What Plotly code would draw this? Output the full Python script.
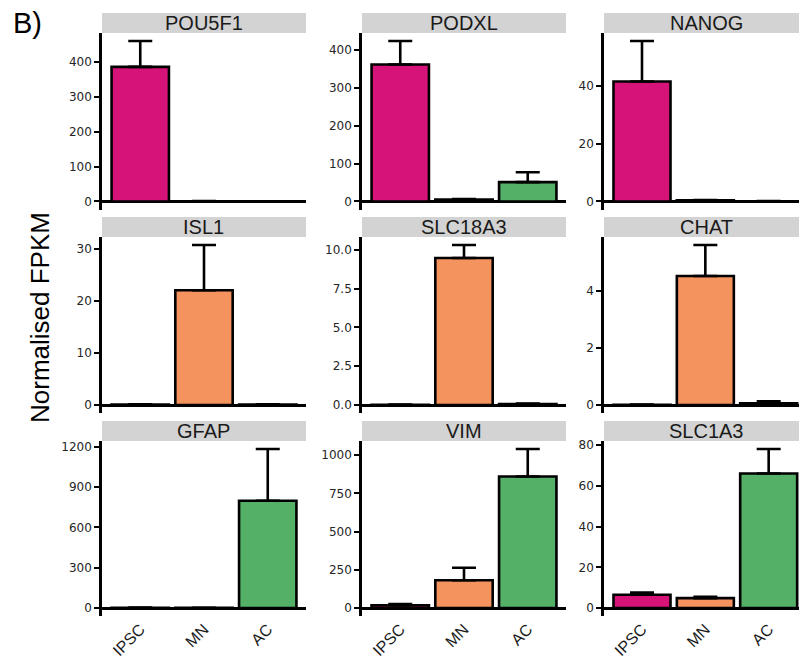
import plotly.graph_objects as go

# Expression data: mean normalised FPKM and SD per gene and cell type
genes = ["POU5F1", "PODXL", "NANOG", "ISL1", "SLC18A3", "CHAT", "GFAP", "VIM", "SLC1A3"]
cell_types = ["IPSC", "MN", "AC"]

pou5f1_mean = [386, 0.8, 0.5]
pou5f1_sd = [74, 0.3, 0.2]
podxl_mean = [361, 5, 51]
podxl_sd = [62, 1.5, 26]
nanog_mean = [41.5, 0.4, 0.1]
nanog_sd = [14, 0.1, 0.05]
isl1_mean = [0.1, 22.1, 0.1]
isl1_sd = [0.05, 8.7, 0.05]
slc18a3_mean = [0.02, 9.46, 0.06]
slc18a3_sd = [0.01, 0.84, 0.04]
chat_mean = [0.01, 4.53, 0.06]
chat_sd = [0.01, 1.09, 0.07]
gfap_mean = [2, 1, 798]
gfap_sd = [1, 0.5, 386]
vim_mean = [18, 182, 861]
vim_sd = [8, 82, 180]
slc1a3_mean = [6.5, 4.9, 66.1]
slc1a3_sd = [1.1, 0.6, 12.1]

means = [pou5f1_mean, podxl_mean, nanog_mean, isl1_mean, slc18a3_mean,
         chat_mean, gfap_mean, vim_mean, slc1a3_mean]
sds = [pou5f1_sd, podxl_sd, nanog_sd, isl1_sd, slc18a3_sd,
       chat_sd, gfap_sd, vim_sd, slc1a3_sd]

# y tick spacing for each facet
tick_steps = [100, 100, 20, 10, 2.5, 2, 300, 250, 20]
tick_formats = ["d", "d", "d", "d", ".1f", "d", "d", "d", "d"]

colors = {"IPSC": "#D61379", "MN": "#F5935F", "AC": "#54AF67"}

W, H = 799, 660
col_px = [(102, 306), (362, 566), (604, 799)]
row_px = [(33, 209.5), (237, 413), (441, 616)]
strip_h = 20
full_w = 204  # facet width in px

fig = go.Figure()
shapes = []
annotations = []
layout = {}

for i, gene in enumerate(genes):
    r, c = divmod(i, 3)
    n = i + 1
    xa = "x" if n == 1 else f"x{n}"
    ya = "y" if n == 1 else f"y{n}"
    m = means[i]
    s = sds[i]
    fig.add_trace(go.Bar(
        x=cell_types, y=m, xaxis=xa, yaxis=ya, width=0.9,
        marker=dict(color=[colors[ct] for ct in cell_types],
                    line=dict(color="black", width=2.6)),
        error_y=dict(type="data", symmetric=False, array=s,
                     arrayminus=[0] * len(s), color="black",
                     thickness=2.6, width=12),
        showlegend=False, hoverinfo="skip",
    ))

    x0, x1 = col_px[c]
    y0, y1 = row_px[r]
    top = max(a + b for a, b in zip(m, s))
    lo, hi = -0.05 * top, 1.05 * top
    # discrete scale: 0.6 units of padding either side, last column cropped
    units_per_px = 3.2 / full_w
    xr = [-0.6, -0.6 + (x1 - x0) * units_per_px + (0.02 if c == 2 else 0)]

    layout["xaxis" if n == 1 else f"xaxis{n}"] = dict(
        domain=[x0 / W, x1 / W], anchor=ya, range=xr, automargin=False,
        type="category", showline=False, showgrid=False, zeroline=False,
        ticks="", showticklabels=(r == 2), tickangle=-45,
        tickfont=dict(family="Liberation Sans, Arial", size=16, color="#1a1a1a"),
        fixedrange=True,
    )
    layout["yaxis" if n == 1 else f"yaxis{n}"] = dict(
        domain=[1 - y1 / H, 1 - y0 / H], anchor=xa, range=[lo, hi],
        automargin=False,
        tick0=0, dtick=tick_steps[i], tickformat=tick_formats[i],
        showline=True, linecolor="black", linewidth=2.6,
        ticks="outside", ticklen=5, tickwidth=2.4, tickcolor="black",
        showgrid=False, zeroline=True, zerolinecolor="black", zerolinewidth=2.8,
        tickfont=dict(family="DejaVu Sans", size=12, color="#262626"),
        fixedrange=True,
    )

    # facet strip
    shapes.append(dict(type="rect", xref="paper", yref="paper",
                       x0=x0 / W, x1=min(x0 + full_w, W) / W,
                       y0=1 - y0 / H, y1=1 - (y0 - strip_h) / H,
                       fillcolor="#D3D3D3", line=dict(width=0), layer="below"))
    annotations.append(dict(text=gene, xref="paper", yref="paper",
                            x=(x0 + full_w / 2) / W, y=1 - (y0 - strip_h / 2) / H,
                            xanchor="center", yanchor="middle", showarrow=False,
                            font=dict(family="Liberation Sans, Arial", size=20,
                                      color="#1a1a1a")))

annotations.append(dict(text="Normalised FPKM", xref="paper", yref="paper",
                        x=40 / W, y=1 - 318 / H, textangle=-90,
                        xanchor="center", yanchor="middle", showarrow=False,
                        font=dict(family="Liberation Sans, Arial", size=26,
                                  color="black")))
annotations.append(dict(text="B)", xref="paper", yref="paper",
                        x=27 / W, y=1 - 23 / H, xanchor="center",
                        yanchor="middle", showarrow=False,
                        font=dict(family="Liberation Sans, Arial", size=29,
                                  color="black")))

fig.update_layout(
    width=W, height=H, margin=dict(l=0, r=0, t=0, b=0, autoexpand=False),
    paper_bgcolor="white", plot_bgcolor="white",
    shapes=shapes, annotations=annotations, bargap=0.1,
    **layout,
)

fig.write_html("out.html")
